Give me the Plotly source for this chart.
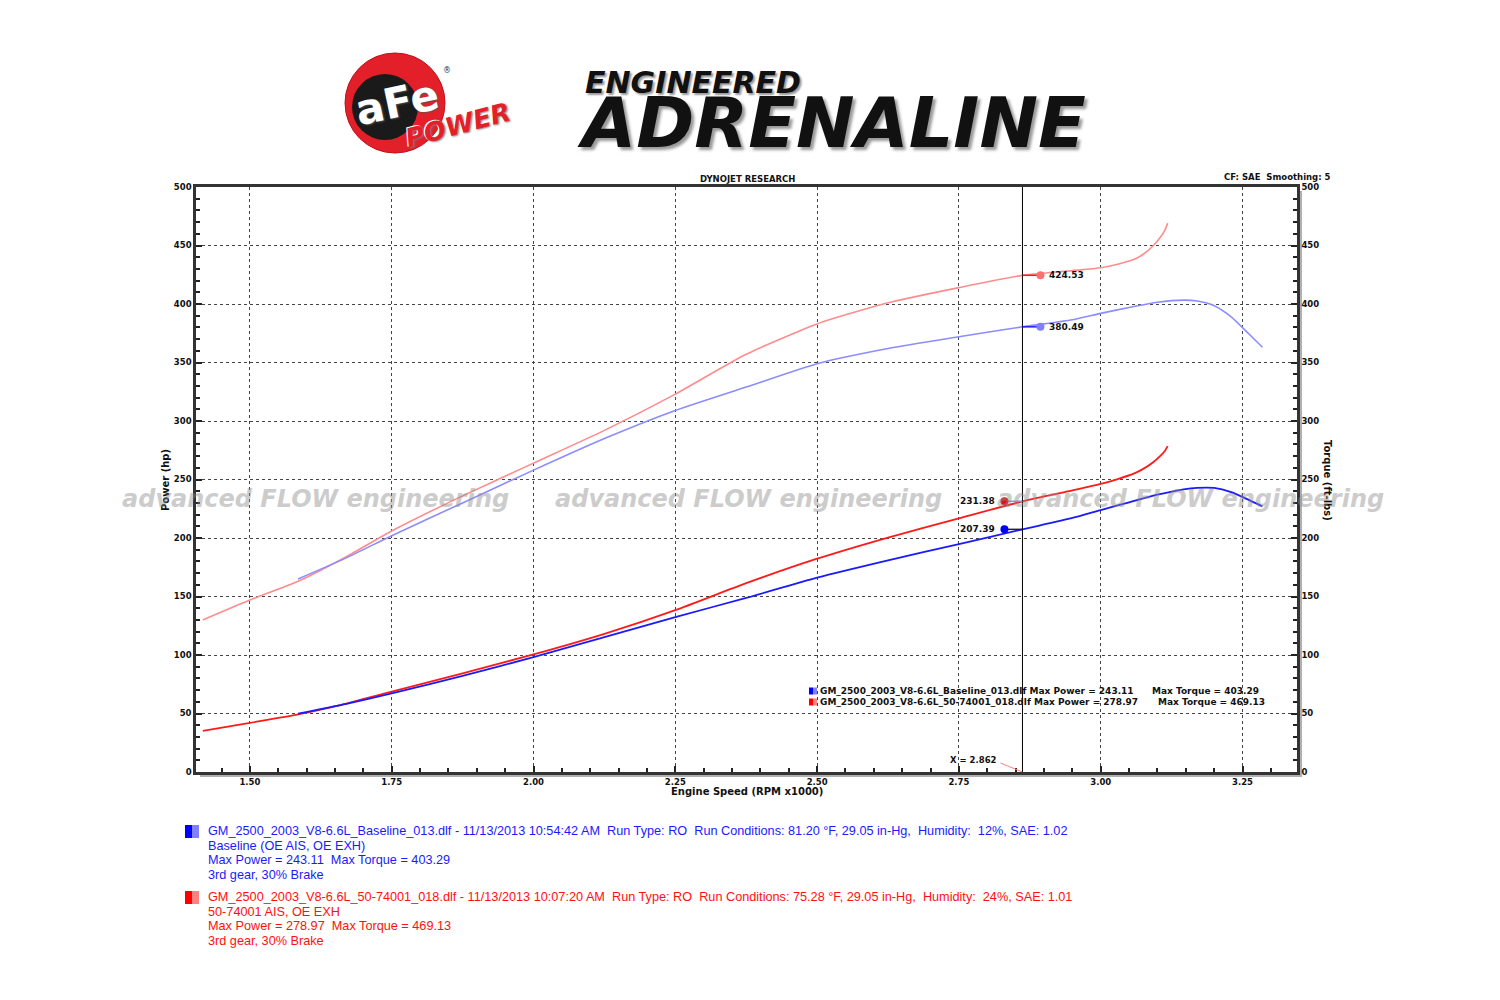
import plotly.graph_objects as go

# ---------------- data ----------------
red_rpm = [1.417, 1.50, 1.585, 1.67, 1.75, 1.875, 2.00, 2.125, 2.25, 2.375, 2.50, 2.625,
           2.75, 2.862, 2.95, 3.00, 3.03, 3.058, 3.075, 3.093, 3.105, 3.113, 3.118]
red_torque = [130, 147, 163, 184, 206, 236, 264, 292, 323, 357, 383, 401,
              414, 424.5, 428.5, 431, 434, 438, 442.5, 450, 457, 463, 469.1]
red_power = [35.1, 42.0, 49.2, 58.5, 68.6, 84.3, 100.5, 118.1, 138.4, 161.4, 182.3, 200.4,
             216.8, 231.3, 240.7, 246.2, 250.4, 255.0, 259.1, 265.0, 270.2, 274.4, 278.5]

blue_rpm = [1.585, 1.67, 1.75, 1.875, 2.00, 2.125, 2.25, 2.375, 2.50, 2.625, 2.75, 2.862,
            2.95, 3.00, 3.05, 3.10, 3.146, 3.17, 3.20, 3.23, 3.26, 3.285]
blue_torque = [165, 183, 202, 230, 258, 285, 309, 329, 349, 362, 372, 380.5,
               386.5, 392, 397, 401.5, 403.3, 402.5, 398.5, 389, 375, 363]
blue_power = [49.8, 58.2, 67.3, 82.1, 98.2, 115.3, 132.4, 148.8, 166.1, 180.9, 194.8, 207.4,
              217.1, 223.9, 230.5, 237.0, 241.6, 242.9, 242.8, 239.2, 232.8, 227.0]

x_ticks = [1.50, 1.75, 2.00, 2.25, 2.50, 2.75, 3.00, 3.25]
x_tick_labels = ["1.50", "1.75", "2.00", "2.25", "2.50", "2.75", "3.00", "3.25"]
y_ticks = [0, 50, 100, 150, 200, 250, 300, 350, 400, 450, 500]
y_tick_labels = [str(v) for v in y_ticks]

cursor_rpm = 2.862
cursor_red_torque = 424.53
cursor_blue_torque = 380.49
cursor_red_power = 231.38
cursor_blue_power = 207.39

blue_lines = [
    "GM_2500_2003_V8-6.6L_Baseline_013.dlf - 11/13/2013 10:54:42 AM\u00a0 Run Type: RO\u00a0 Run Conditions: 81.20 °F, 29.05 in-Hg,\u00a0 Humidity:\u00a0 12%, SAE: 1.02",
    "Baseline (OE AIS, OE EXH)",
    "Max Power = 243.11\u00a0 Max Torque = 403.29",
    "3rd gear, 30% Brake",
]
red_lines = [
    "GM_2500_2003_V8-6.6L_50-74001_018.dlf - 11/13/2013 10:07:20 AM\u00a0 Run Type: RO\u00a0 Run Conditions: 75.28 °F, 29.05 in-Hg,\u00a0 Humidity:\u00a0 24%, SAE: 1.01",
    "50-74001 AIS, OE EXH",
    "Max Power = 278.97\u00a0 Max Torque = 469.13",
    "3rd gear, 30% Brake",
]

# ---------------- colours ----------------
RED = "#ff1a1a"
RED_L = "#ff8c8c"
BLUE = "#1a1aff"
BLUE_L = "#8c8cff"

# ---------------- geometry helpers ----------------
# the page body adds an 8px offset, so the figure margins are reduced by 8px
W, H = 1500, 1000
OFF = 8
PLOT_X0, PLOT_Y0 = 196, 187          # page pixels of the plot area's top-left
PW, PH = 1101, 585
L, T = PLOT_X0 - OFF, PLOT_Y0 - OFF
R, B = W - L - PW, H - T - PH


def px(x):
    return (x - PLOT_X0) / PW


def py(y):
    return (PLOT_Y0 + PH - y) / PH


fig = go.Figure()
fig.add_trace(go.Scatter(x=red_rpm, y=red_torque, mode="lines", yaxis="y2",
                         line=dict(color=RED_L, width=1.6, shape="spline", smoothing=0.6)))
fig.add_trace(go.Scatter(x=blue_rpm, y=blue_torque, mode="lines", yaxis="y2",
                         line=dict(color=BLUE_L, width=1.6, shape="spline", smoothing=0.6)))
fig.add_trace(go.Scatter(x=red_rpm, y=red_power, mode="lines",
                         line=dict(color=RED, width=1.8, shape="spline", smoothing=0.6)))
fig.add_trace(go.Scatter(x=blue_rpm, y=blue_power, mode="lines",
                         line=dict(color=BLUE, width=1.8, shape="spline", smoothing=0.6)))

tickfont = dict(family="DejaVu Sans", size=8.5, color="#111", weight="bold")
axis_common = dict(showline=True, linecolor="#333", linewidth=2.5, zeroline=False,
                   ticks="inside", ticklen=6, tickwidth=1.5, tickcolor="#222",
                   tickfont=tickfont)

shapes = []
annotations = []

# axis shadow
shapes.append(dict(type="rect", xref="paper", yref="paper", x0=px(200), x1=px(1301), y0=py(777), y1=py(773),
                   fillcolor="#b0b0b0", line_width=0, layer="below"))
shapes.append(dict(type="rect", xref="paper", yref="paper", x0=px(1298), x1=px(1302), y0=py(777), y1=py(191),
                   fillcolor="#b0b0b0", line_width=0, layer="below"))

# cursor line
shapes.append(dict(type="line", xref="x", yref="paper", x0=cursor_rpm, x1=cursor_rpm, y0=0, y1=1,
                   line=dict(color="#000", width=1)))


def cursor_dot(val, side, col, seg_col, yref):
    sgn = 1 if side == "right" else -1
    shapes.append(dict(type="line", xref="x", yref=yref, xsizemode="pixel", xanchor=cursor_rpm,
                       x0=0, x1=sgn * 18, y0=val, y1=val, line=dict(color=seg_col, width=1.5)))
    shapes.append(dict(type="circle", xref="x", yref=yref, xsizemode="pixel", ysizemode="pixel",
                       xanchor=cursor_rpm, yanchor=val, x0=sgn * 18 - 4, x1=sgn * 18 + 4, y0=-4, y1=4,
                       fillcolor=col, line=dict(color=col, width=0)))
    annotations.append(dict(x=cursor_rpm, y=val, xref="x", yref=yref, text=f"{val:.2f}", showarrow=False,
                            xanchor="left" if side == "right" else "right", xshift=sgn * 25,
                            font=dict(family="DejaVu Sans", size=9, color="#111", weight="bold")))


cursor_dot(cursor_red_torque, "right", "#ff7070", RED, "y2")
cursor_dot(cursor_blue_torque, "right", "#8080ff", BLUE, "y2")
cursor_dot(cursor_red_power, "left", "#e01010", "#9a8aff", "y")
cursor_dot(cursor_blue_power, "left", "#0000ee", "#222", "y")

# X = 2.862 marker
shapes.append(dict(type="line", xref="x", yref="y", xsizemode="pixel", ysizemode="pixel",
                   xanchor=cursor_rpm, yanchor=0, x0=-22, x1=0, y0=9, y1=0,
                   line=dict(color="#ff8080", width=1)))
annotations.append(dict(x=cursor_rpm, y=0, xref="x", yref="y", text=f"X = {cursor_rpm:.3f}", showarrow=False,
                        xanchor="right", yanchor="bottom", xshift=-23, yshift=5,
                        font=dict(family="DejaVu Sans", size=8.5, color="#111", weight="bold")))

# in-plot legend
leg_font = dict(family="DejaVu Sans", size=9, color="#111", weight="bold")
for yy, dark, light, t1, t2, x2 in [
    (691, "#0000ff", "#8080ff", "GM_2500_2003_V8-6.6L_Baseline_013.dlf Max Power = 243.11", "Max Torque = 403.29", 1150),
    (702, "#ff0000", "#ff8080", "GM_2500_2003_V8-6.6L_50-74001_018.dlf Max Power = 278.97", "Max Torque = 469.13", 1156),
]:
    shapes.append(dict(type="rect", xref="paper", yref="paper", x0=px(809), x1=px(813), y0=py(yy + 3.5), y1=py(yy - 3.5),
                       fillcolor=dark, line_width=0))
    shapes.append(dict(type="rect", xref="paper", yref="paper", x0=px(813), x1=px(817), y0=py(yy + 3.5), y1=py(yy - 3.5),
                       fillcolor=light, line_width=0))
    annotations.append(dict(x=px(818), y=py(yy), xref="paper", yref="paper", text=t1, showarrow=False,
                            xanchor="left", yanchor="middle", font=leg_font))
    annotations.append(dict(x=px(x2), y=py(yy), xref="paper", yref="paper", text=t2, showarrow=False,
                            xanchor="left", yanchor="middle", font=leg_font))

# headings / axis titles
small_bold = dict(family="DejaVu Sans", size=8.5, color="#111", weight="bold")
annotations.append(dict(x=px(747), y=py(179), xref="paper", yref="paper", text="DYNOJET RESEARCH",
                        showarrow=False, xanchor="center", yanchor="middle", font=small_bold))
annotations.append(dict(x=px(1333), y=py(177), xref="paper", yref="paper", text="CF: SAE\u00a0 Smoothing: 5",
                        showarrow=False, xanchor="right", yanchor="middle", font=small_bold))
annotations.append(dict(x=px(747), y=py(791), xref="paper", yref="paper", text="Engine Speed (RPM x1000)",
                        showarrow=False, xanchor="center", yanchor="middle",
                        font=dict(family="DejaVu Sans", size=10, color="#111", weight="bold")))
annotations.append(dict(x=px(165), y=py(480), xref="paper", yref="paper", text="Power (hp)", textangle=-90,
                        showarrow=False, xanchor="center", yanchor="middle",
                        font=dict(family="DejaVu Sans", size=10, color="#111", weight="bold")))
annotations.append(dict(x=px(1328), y=py(480), xref="paper", yref="paper", text="Torque (ft-lbs)", textangle=90,
                        showarrow=False, xanchor="center", yanchor="middle",
                        font=dict(family="DejaVu Sans", size=10, color="#111", weight="bold")))

# watermarks
for cx in [315, 748, 1190]:
    annotations.append(dict(x=px(cx), y=py(499), xref="paper", yref="paper", text="advanced FLOW engineering",
                            showarrow=False, xanchor="center", yanchor="middle", opacity=0.45,
                            font=dict(family="DejaVu Sans", size=24, color="#8f8f8f", weight="bold",
                                      style="italic")))

# bottom legend
for lines, ytop, dark, light, col in [(blue_lines, 831, "#0000ff", "#8080ff", "#1a1aff"),
                                      (red_lines, 897, "#ff0000", "#ff8080", "#ff1010")]:
    shapes.append(dict(type="rect", xref="paper", yref="paper", x0=px(185), x1=px(192),
                       y0=py(ytop + 7), y1=py(ytop - 6), fillcolor=dark, line_width=0))
    shapes.append(dict(type="rect", xref="paper", yref="paper", x0=px(192), x1=px(199),
                       y0=py(ytop + 7), y1=py(ytop - 6), fillcolor=light, line_width=0))
    for i, txt in enumerate(lines):
        annotations.append(dict(x=px(206), y=py(ytop + i * 14.7), xref="paper", yref="paper", text=txt,
                                showarrow=False, xanchor="left", yanchor="middle",
                                font=dict(family="Liberation Sans", size=12.7, color=col)))

# logos (rendered as shapes + text)
shapes.append(dict(type="circle", xref="paper", yref="paper", x0=px(345), x1=px(445), y0=py(153), y1=py(53),
                   fillcolor="#e3202a", line=dict(color="#c01018", width=1)))
shapes.append(dict(type="circle", xref="paper", yref="paper", x0=px(352), x1=px(418), y0=py(140), y1=py(74),
                   fillcolor="#1a1a1a", line_width=0))
annotations.append(dict(x=px(397), y=py(102), xref="paper", yref="paper", text="aFe", textangle=-12,
                        showarrow=False, xanchor="center", yanchor="middle",
                        font=dict(family="DejaVu Sans", size=42, color="#ffffff", weight="bold",
                                  shadow="1px 1px 2px #555")))
annotations.append(dict(x=px(458), y=py(125), xref="paper", yref="paper", text="POWER", textangle=-15,
                        showarrow=False, xanchor="center", yanchor="middle",
                        font=dict(family="DejaVu Sans", size=26, color="#e3202a", weight="bold", style="italic",
                                  shadow="-1px -1px 0 #fff, 1px 1px 2px #777")))
annotations.append(dict(x=px(447), y=py(70), xref="paper", yref="paper", text="®",
                        showarrow=False, xanchor="center", yanchor="middle",
                        font=dict(family="DejaVu Sans", size=8, color="#333")))
annotations.append(dict(x=px(583), y=py(83), xref="paper", yref="paper", text="ENGINEERED",
                        showarrow=False, xanchor="left", yanchor="middle",
                        font=dict(family="DejaVu Sans", size=30, color="#111", weight="bold", style="italic",
                                  shadow="2px 2px 2px #999")))
annotations.append(dict(x=px(575), y=py(123), xref="paper", yref="paper", text="ADRENALINE",
                        showarrow=False, xanchor="left", yanchor="middle",
                        font=dict(family="DejaVu Sans", size=70, color="#111", weight="bold", style="italic",
                                  shadow="3px 3px 3px #999")))

fig.update_layout(
    width=W, height=H, autosize=False,
    margin=dict(l=L, r=R, t=T, b=B, pad=0),
    paper_bgcolor="white", plot_bgcolor="white",
    showlegend=False,
    xaxis=dict(range=[1.405, 3.346], tickvals=x_ticks, ticktext=x_tick_labels, mirror=True,
               showgrid=True, gridcolor="#444", griddash="dot", gridwidth=1,
               minor=dict(tick0=1.5, dtick=0.05, ticks="inside", ticklen=4, tickcolor="#222", showgrid=False),
               **axis_common),
    yaxis=dict(range=[0, 500], tickvals=y_ticks, ticktext=y_tick_labels, mirror=True,
               showgrid=True, gridcolor="#444", griddash="dot", gridwidth=1,
               minor=dict(dtick=10, ticks="inside", ticklen=4, tickcolor="#222", showgrid=False),
               **axis_common),
    yaxis2=dict(range=[0, 500], tickvals=y_ticks, ticktext=y_tick_labels, overlaying="y", side="right",
                showgrid=False,
                minor=dict(dtick=10, ticks="inside", ticklen=4, tickcolor="#222", showgrid=False),
                **axis_common),
    shapes=shapes,
    annotations=annotations,
)

fig.write_html("out.html")
